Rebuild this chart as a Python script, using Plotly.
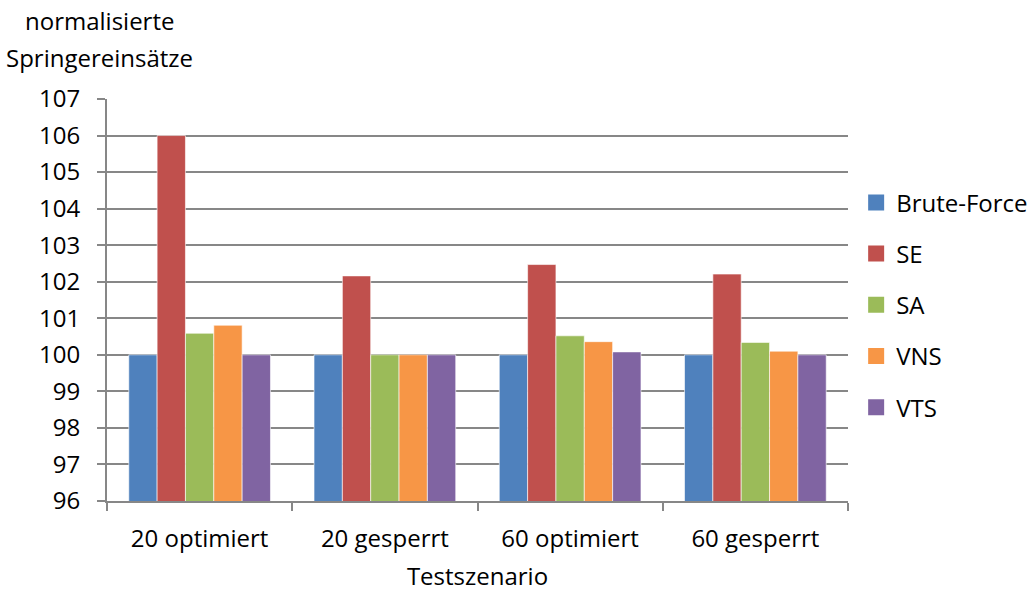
import plotly.graph_objects as go

# Test scenarios and normalised jumper deployments per method
scenarios = ["20 optimiert", "20 gesperrt", "60 optimiert", "60 gesperrt"]
brute_force = [100.0, 100.0, 100.0, 100.0]
se = [106.0, 102.16, 102.47, 102.21]
sa = [100.59, 100.0, 100.52, 100.34]
vns = [100.81, 100.0, 100.36, 100.10]
vts = [100.0, 100.0, 100.08, 100.0]

series = [
    ("Brute-Force", brute_force, "#4F81BD"),
    ("SE", se, "#C0504D"),
    ("SA", sa, "#9BBB59"),
    ("VNS", vns, "#F79646"),
    ("VTS", vts, "#8064A2"),
]

font_family = "Open Sans, Lato, sans-serif"
font_size = 24
grid_color = "#878787"

fig = go.Figure()
for name, values, color in series:
    fig.add_trace(go.Bar(
        name=name,
        x=scenarios,
        y=values,
        marker=dict(color=color, line=dict(color="rgba(255,255,255,0.6)", width=1)),
        showlegend=False,
    ))
    # legend entry with a larger square swatch
    fig.add_trace(go.Scatter(
        name=name,
        x=[None],
        y=[None],
        mode="markers",
        marker=dict(symbol="square", size=16, color=color),
        legendgroup=name,
        showlegend=True,
    ))

fig.update_layout(
    width=1035,
    height=592,
    margin=dict(l=107, r=187, t=99, b=91, autoexpand=False),
    paper_bgcolor="white",
    plot_bgcolor="white",
    barmode="group",
    bargap=0.235,
    bargroupgap=0,
    font=dict(family=font_family, size=font_size, color="#000000"),
    showlegend=True,
    legend=dict(
        x=1.011, xanchor="left",
        y=0.488, yanchor="middle",
        font=dict(size=font_size),
        tracegroupgap=17,
        itemwidth=30,
        bgcolor="rgba(0,0,0,0)",
    ),
    xaxis=dict(
        type="category",
        tickson="boundaries",
        ticks="outside",
        ticklen=8,
        tickwidth=2,
        tickcolor=grid_color,
        showline=True,
        linecolor=grid_color,
        linewidth=2,
        showgrid=False,
        tickfont=dict(size=font_size),
        ticklabelstandoff=15,
        title=dict(text="Testszenario", font=dict(size=font_size), standoff=20),
    ),
    yaxis=dict(
        range=[96, 107],
        dtick=1,
        ticks="outside",
        ticklen=8,
        tickwidth=2,
        tickcolor=grid_color,
        showline=True,
        linecolor=grid_color,
        linewidth=2,
        showgrid=True,
        gridcolor=grid_color,
        gridwidth=2,
        zeroline=False,
        tickfont=dict(size=font_size),
        ticklabelstandoff=12,
    ),
    annotations=[
        dict(
            text="normalisierte",
            xref="paper", yref="paper",
            x=-0.01, y=1.0,
            xanchor="center", yanchor="middle",
            yshift=79,
            showarrow=False,
            font=dict(size=font_size),
        ),
        dict(
            text="Springereinsätze",
            xref="paper", yref="paper",
            x=-0.01, y=1.0,
            xanchor="center", yanchor="middle",
            yshift=42,
            showarrow=False,
            font=dict(size=font_size),
        ),
    ],
)

fig.write_html("out.html")
